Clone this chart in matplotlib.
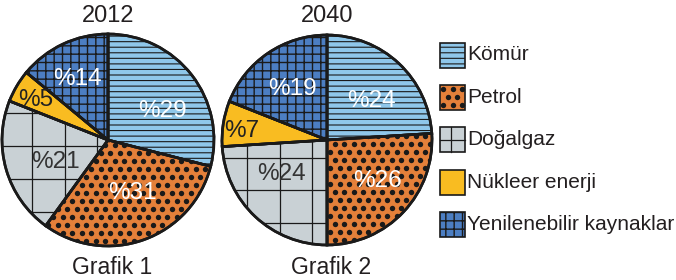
import matplotlib
matplotlib.use("Agg")
import numpy as np
import matplotlib.pyplot as plt
from matplotlib.patches import Rectangle

plt.rcParams['font.family'] = ['Liberation Sans', 'DejaVu Sans']

# ---- data ----
categories = ["Kömür", "Petrol", "Doğalgaz", "Nükleer enerji", "Yenilenebilir kaynaklar"]
values_2012 = [29, 31, 21, 5, 14]
values_2040 = [24, 26, 24, 7, 19]
years = ["2012", "2040"]
graph_names = ["Grafik 1", "Grafik 2"]

# ---- style ----
colors = ["#8FC7EA", "#E4803A", "#C9D1D5", "#F9BC21", "#4C7EC2"]
hatches = ["---", "", "", "", "++"]
hatch_lw = [0.8, 1.0, 0.9, 0.8, 1.0]
label_colors = ["white", "white", "#333333", "#222222", "white"]
txt_color = "#231F20"
ink = "#1a1a1a"

W, H = 676, 280
fig = plt.figure(figsize=(W / 100, H / 100), dpi=100)

# label positions (in pie-radius units) per pie
label_pos = [
    [(0.51, 0.27), (0.23, -0.50), (-0.50, -0.21), (-0.68, 0.38), (-0.29, 0.58)],
    [(0.42, 0.37), (0.48, -0.39), (-0.43, -0.32), (-0.81, 0.09), (-0.33, 0.49)],
]
pie_geom = [(108, 140, 106), (327, 140, 105)]
grid_step = 0.31
grid_offsets = [(-0.10, 0.25), (-0.14, -0.17)]
L = 1.05
dot_size = 15


def set_hlw(patch, lw):
    if hasattr(patch, "set_hatch_linewidth"):
        patch.set_hatch_linewidth(lw)


def dot_texture(ax, clip, x0, x1, y0, y1, dx, dy, size, z):
    ys = np.arange(y0, y1, dy)
    px, py = [], []
    for k, yy in enumerate(ys):
        xs = np.arange(x0 + (dx / 2 if k % 2 else 0), x1, dx)
        px.extend(xs)
        py.extend([yy] * len(xs))
    sc = ax.scatter(px, py, s=size, color=ink, linewidths=0, zorder=z)
    sc.set_clip_path(clip)


for i, vals in enumerate([values_2012, values_2040]):
    cx, cy, r = pie_geom[i]
    ax = fig.add_axes([(cx - L * r) / W, (H - cy - L * r) / H, 2 * L * r / W, 2 * L * r / H])
    wedges, _ = ax.pie(vals, startangle=90, counterclock=False, colors=colors,
                       wedgeprops=dict(edgecolor=ink, linewidth=1.9))
    for w, h, lw in zip(wedges, hatches, hatch_lw):
        w.set_hatch(h)
        set_hlw(w, lw)
    z = wedges[0].get_zorder() + 0.1
    # dots for Petrol slice
    dot_texture(ax, wedges[1], -1.1, 1.1, -1.1, 1.1, 9.5 / r, 8 / r, dot_size, z)
    # grid lines for Doğalgaz slice
    gw = wedges[2]
    ox, oy = grid_offsets[i]
    for gx in np.arange(ox - 4 * grid_step, ox + 4 * grid_step, grid_step):
        ln, = ax.plot([gx, gx], [-1.1, 1.1], color=ink, lw=0.9, zorder=z)
        ln.set_clip_path(gw)
    for gy in np.arange(oy - 4 * grid_step, oy + 4 * grid_step, grid_step):
        ln, = ax.plot([-1.1, 1.1], [gy, gy], color=ink, lw=0.9, zorder=z)
        ln.set_clip_path(gw)
    # outlines on top of the textures
    outl, _ = ax.pie(vals, startangle=90, counterclock=False,
                     wedgeprops=dict(edgecolor=ink, linewidth=1.9, facecolor="none"))
    for w in outl:
        w.set_zorder(z + 0.2)
        w.set_facecolor("none")
    ax.set_xlim(-L, L)
    ax.set_ylim(-L, L)
    ax.set_aspect("auto")
    ax.axis("off")
    for v, (x, y), c in zip(vals, label_pos[i], label_colors):
        ax.text(x, y, f"%{v}", ha="center", va="center", color=c, fontsize=17.5, zorder=10)
    fig.text(cx / W, 1 - 16 / H, years[i], ha="center", va="center", fontsize=17, color=txt_color)
    fig.text((cx + 4) / W, 1 - 267 / H, graph_names[i], ha="center", va="center", fontsize=16.5, color=txt_color)

# legend (pixel coordinate overlay)
lax = fig.add_axes([0, 0, 1, 1])
lax.set_xlim(0, W)
lax.set_ylim(H, 0)
lax.axis("off")
row_y = [55, 97.5, 139.5, 182, 224.5]
for k, (cat, col, h, lw, y) in enumerate(zip(categories, colors, hatches, hatch_lw, row_y)):
    rect = Rectangle((440, y - 12.5), 25, 25, facecolor=col, edgecolor=ink, linewidth=0,
                     hatch=h, zorder=1)
    set_hlw(rect, lw)
    lax.add_patch(rect)
    if k == 1:
        dot_texture(lax, rect, 443, 465, y - 9, y + 12.5, 9.5, 8, dot_size, 2)
    if k == 2:
        lax.plot([451, 451], [y - 12.5, y + 12.5], color=ink, lw=0.9, zorder=2)
        lax.plot([440, 465], [y, y], color=ink, lw=0.9, zorder=2)
    lax.add_patch(Rectangle((440, y - 12.5), 25, 25, facecolor="none", edgecolor=ink,
                            linewidth=1.2, zorder=3))
    lax.text(467, y, cat, ha="left", va="center", fontsize=15, color=txt_color)

fig.savefig("out.png", dpi=100)
